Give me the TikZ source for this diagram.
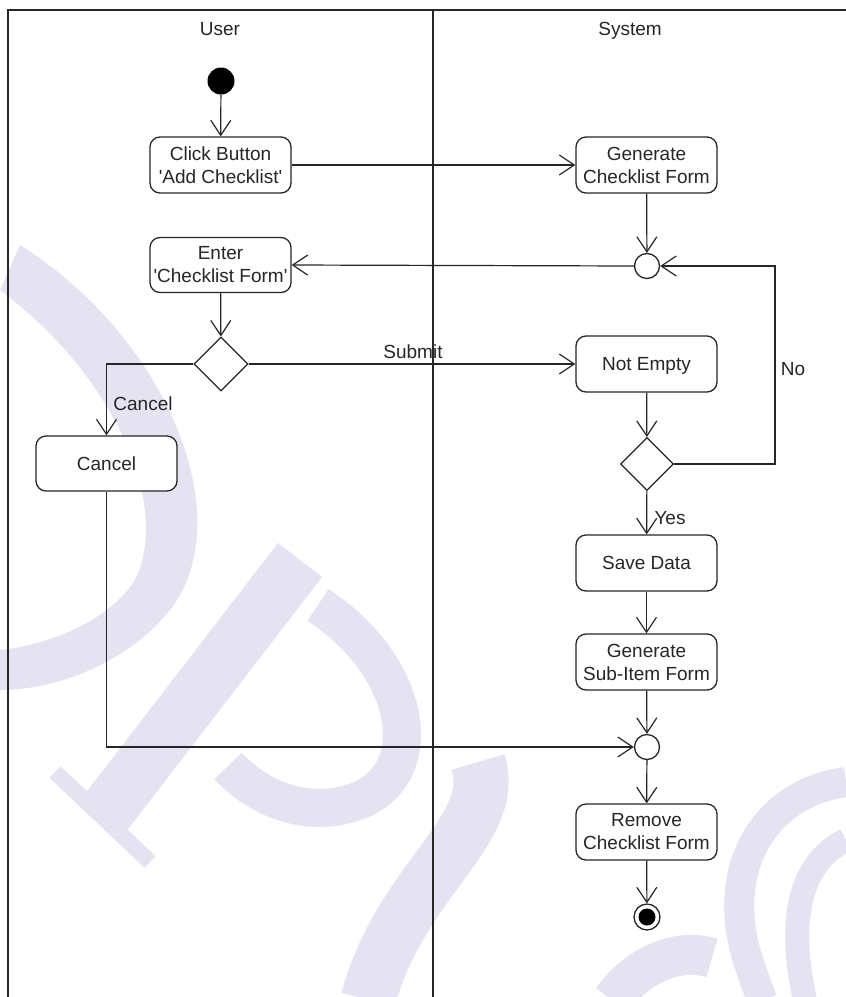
\documentclass[tikz,border=0pt]{standalone}
\usepackage{fontspec}
\setmainfont{Liberation Sans}[Ligatures=TeXOff]
\usetikzlibrary{arrows.meta,shapes.geometric}
\definecolor{ink}{RGB}{38,38,38}
\definecolor{mark}{RGB}{229,226,241}
\begin{document}
\begin{tikzpicture}[x=1pt,y=-1pt,
  txt/.style={font=\fontsize{19}{23}\selectfont, text=ink, inner sep=0pt},
  act/.style={txt, draw=ink, line width=1.3pt, rounded corners=10pt,
    minimum width=141pt, minimum height=56pt, align=center, fill=white},
  oneline/.style={text height=16pt, text depth=2.4pt},
  choice/.style={draw=ink, line width=1.3pt, diamond, aspect=1,
    minimum size=54pt, inner sep=0pt, fill=white},
  joint/.style={draw=ink, line width=1.3pt, circle, minimum size=25pt,
    inner sep=0pt, fill=white},
  initial/.style={circle, fill=black, minimum size=27pt, inner sep=0pt},
  final/.style={circle, draw=ink, line width=1.3pt, fill=white,
    minimum size=26pt, inner sep=0pt,
    path picture={\fill[black] (path picture bounding box.center) circle[radius=8.5pt];}},
  flow/.style={draw=ink, line width=1.2pt,
    -{Straight Barb[length=15pt,width=20pt]}},
  lane/.style={draw=ink, line width=2pt},
  band/.style={fill=mark, draw=none},
  stroke/.style={draw=mark, line cap=butt},
]
\useasboundingbox (0,0) rectangle (846,997);
\fill[white] (0,0) rectangle (846,997);

% background emblem
\fill[band] (20,245) .. controls (170,340) and (240,520) .. (170,610)
  .. controls (130,660) and (60,690) .. (0,690) -- (0,650)
  .. controls (50,645) and (110,620) .. (135,580)
  .. controls (170,510) and (120,380) .. (0,290) -- cycle;
\fill[band] (322,577) -- (278,543) -- (78,803) -- (122,837) -- cycle;
\draw[stroke, line width=16pt] (55,772) -- (150,862);
\draw[stroke, line width=38pt] (318,605) .. controls (410,665) and (430,770) .. (360,800)
  .. controls (310,820) and (260,800) .. (228,766);
\draw[stroke, line width=55pt] (478,762) .. controls (500,830) and (400,880) .. (368,1000);
\draw[stroke, line width=30pt] (846,782) .. controls (770,792) and (722,860) .. (745,950)
  .. controls (752,975) and (758,988) .. (762,1000);
\draw[stroke, line width=24pt] (846,840) .. controls (805,860) and (785,910) .. (805,1000);
\draw[stroke, line width=40pt] (612,1000) .. controls (640,962) and (680,948) .. (712,958);

% lane headers
\node[txt, anchor=base] (userlane) at (220,35) {User};
\node[txt, anchor=base] (syslane) at (630,35) {System};

% activity nodes
\node[initial] (start) at (221,81) {};
\node[act] (click) at (220.5,165) {Click Button\\'Add Checklist'};
\node[act] (genform) at (646.5,165) {Generate\\Checklist Form};
\node[joint] (merge1) at (647,266) {};
\node[act, minimum height=55pt] (enter) at (220.5,265) {Enter\\'Checklist Form'};
\node[choice] (dec1) at (221,364) {};
\node[act, oneline] (notempty) at (646.5,364) {Not Empty};
\node[act, oneline, minimum height=55pt] (cancel) at (106.5,463.5) {Cancel};
\node[choice, minimum size=53pt] (dec2) at (647,464) {};
\node[act, oneline] (save) at (646.5,563) {Save Data};
\node[act] (gensub) at (646.5,662) {Generate\\Sub-Item Form};
\node[joint] (merge2) at (647,747) {};
\node[act] (remove) at (646.5,832) {Remove\\Checklist Form};
\node[final] (finish) at (647,917) {};

% corner of the "No" loop
\coordinate (loopb) at (775,464);
\coordinate (loopt) at (775,266);

% flows
\draw[flow] (start) -- (click);
\draw[flow] (click.east) -- (genform.west);
\draw[flow] (genform) -- (merge1);
\draw[flow] (merge1.west) -- (enter.east);
\draw[flow] (enter) -- (dec1);
\draw[flow] (dec1.east) -- (notempty.west);
\draw[flow] (dec1.west) -| (cancel.north);
\draw[flow] (notempty) -- (dec2);
\draw[flow] (dec2.east) -- (loopb) -- (loopt) -- (merge1.east);
\draw[flow] (dec2) -- (save);
\draw[flow] (save) -- (gensub);
\draw[flow] (gensub) -- (merge2);
\draw[flow] (cancel.south) |- (merge2.west);
\draw[flow] (merge2) -- (remove);
\draw[flow] (remove) -- (finish);

% guard labels
\node[txt] (lsubmit) at (413,352) {Submit};
\node[txt] (lcancel) at (143,404) {Cancel};
\node[txt] (lno) at (793,369) {No};
\node[txt] (lyes) at (670,518) {Yes};

% swimlane frame
\draw[lane] (8,997) -- (8,10) -- (846,10);
\draw[lane] (433,10) -- (433,997);
\end{tikzpicture}
\end{document}
